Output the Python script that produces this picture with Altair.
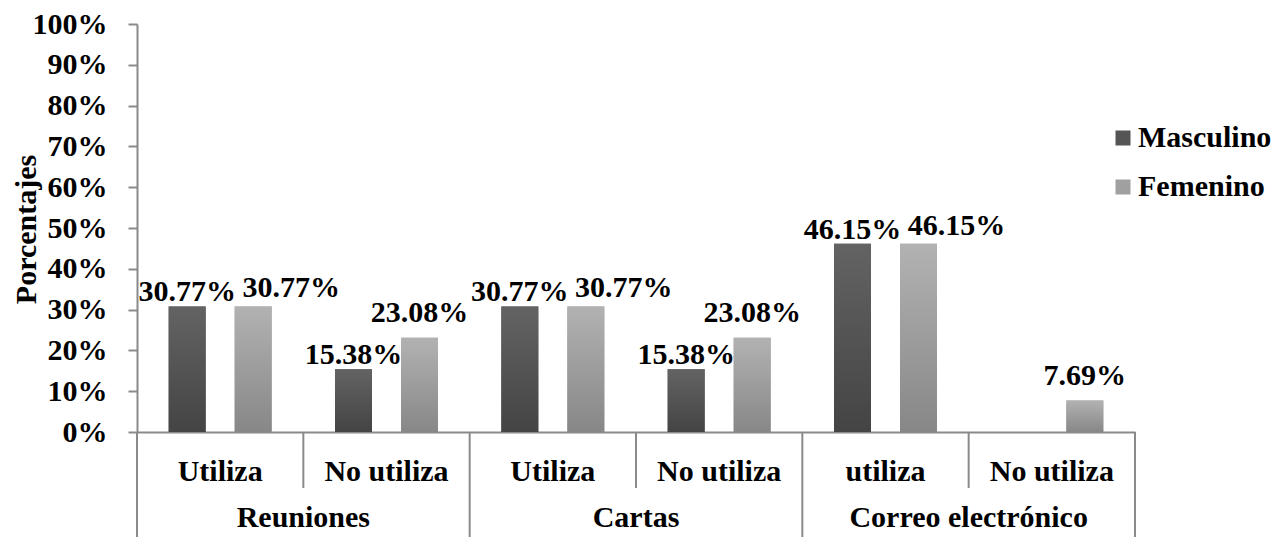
import altair as alt
import pandas as pd

# ---- data ----
categories = ["Reuniones", "Reuniones", "Cartas", "Cartas", "Correo electrónico", "Correo electrónico"]
uses = ["Utiliza", "No utiliza", "Utiliza", "No utiliza", "utiliza", "No utiliza"]
masculino = [0.3077, 0.1538, 0.3077, 0.1538, 0.4615, 0.0]
femenino = [0.3077, 0.2308, 0.3077, 0.2308, 0.4615, 0.0769]
series = ["Masculino", "Femenino"]
y_ticks = [0, 0.1, 0.2, 0.3, 0.4, 0.5, 0.6, 0.7, 0.8, 0.9, 1.0]

FONT = "Liberation Serif"
GRAY = "#8a8a8a"

keys = [f"{c}|{u}" for c, u in zip(categories, uses)]

rows = []
for k, c, u, m, f in zip(keys, categories, uses, masculino, femenino):
    rows.append({"key": k, "cat": c, "use": u, "series": "Masculino", "value": m, "M": m, "F": f})
    rows.append({"key": k, "cat": c, "use": u, "series": "Femenino", "value": f, "M": m, "F": f})
df = pd.DataFrame(rows)

# category boundaries
cat_first = []
cat_second = []
seen = []
for k, c in zip(keys, categories):
    if c not in seen:
        seen.append(c)
        cat_first.append({"key": k, "cat": c})
    else:
        cat_second.append({"key": k, "cat": c})
df_first = pd.DataFrame(cat_first)
df_second = pd.DataFrame(cat_second)
df_last = pd.DataFrame([{"key": keys[-1]}])

x_scale = alt.Scale(domain=keys, paddingInner=0, paddingOuter=0)
xo_scale = alt.Scale(domain=series, paddingInner=0.44, paddingOuter=0.48)
y_scale = alt.Scale(domain=[0, 1], nice=False)

x_axis = alt.Axis(
    title=None, ticks=False, domainColor=GRAY, domainWidth=2,
    labelExpr="split(datum.label, '|')[1]", labelAngle=0,
    labelFont=FONT, labelFontSize=30, labelFontWeight="bold", labelColor="black",
    labelBaseline="alphabetic", labelPadding=48, labelLimit=300,
)
y_axis = alt.Axis(
    values=y_ticks, format=".0%", grid=False,
    tickSize=9, tickColor=GRAY, tickWidth=2, domainColor=GRAY, domainWidth=2,
    labelFont=FONT, labelFontSize=30, labelFontWeight="bold", labelColor="black",
    labelPadding=21,
    title="Porcentajes", titleFont=FONT, titleFontSize=30, titleFontWeight="bold",
    titleColor="black", titleAngle=-90, titleX=-102, titleY=205,
    titleAlign="center", titleBaseline="alphabetic",
)

base = alt.Chart(df)

bars_legend = base.mark_bar().encode(
    x=alt.X("key:N", scale=x_scale, axis=x_axis, sort=keys),
    xOffset=alt.XOffset("series:N", scale=xo_scale, sort=series),
    y=alt.Y("value:Q", scale=y_scale, axis=y_axis),
    color=alt.Color(
        "series:N",
        scale=alt.Scale(domain=series, range=["#555555", "#a0a0a0"]),
        legend=alt.Legend(
            title=None, orient="none", legendX=971, legendY=99,
            symbolType="square", symbolSize=225, symbolStrokeWidth=0,
            labelFont=FONT, labelFontSize=30, labelFontWeight="bold", labelColor="black",
            labelOffset=0, rowPadding=19, labelLimit=300,
        ),
    ),
)


def grad(top, bottom):
    return {"gradient": "linear", "x1": 0, "x2": 0, "y1": 0, "y2": 1,
            "stops": [{"offset": 0, "color": top}, {"offset": 1, "color": bottom}]}


bars_m = base.transform_filter("datum.series == 'Masculino'").mark_bar(
    color=grad("#636363", "#444444")
).encode(
    x=alt.X("key:N", scale=x_scale, sort=keys),
    xOffset=alt.XOffset("series:N", scale=xo_scale, sort=series),
    y=alt.Y("value:Q", scale=y_scale),
)
bars_f = base.transform_filter("datum.series == 'Femenino'").mark_bar(
    color=grad("#b2b2b2", "#878787")
).encode(
    x=alt.X("key:N", scale=x_scale, sort=keys),
    xOffset=alt.XOffset("series:N", scale=xo_scale, sort=series),
    y=alt.Y("value:Q", scale=y_scale),
)

label_kw = dict(font=FONT, fontSize=30, fontWeight="bold", color="black", baseline="alphabetic")
enc = dict(
    x=alt.X("key:N", scale=x_scale, sort=keys),
    xOffset=alt.XOffset("series:N", scale=xo_scale, sort=series),
    y=alt.Y("value:Q", scale=y_scale),
    text=alt.Text("value:Q", format=".2%"),
)
lab_m = base.transform_filter("datum.series == 'Masculino' && datum.value > 0").mark_text(
    dy=-5, **label_kw).encode(**enc)
lab_f_shift = base.transform_filter("datum.series == 'Femenino' && datum.M == datum.F").mark_text(
    dy=-9, dx=38, **label_kw).encode(**enc)
lab_f = base.transform_filter("datum.series == 'Femenino' && datum.M != datum.F").mark_text(
    dy=-16, **label_kw).encode(**enc)

# separators of the two-level axis
rule_cat = alt.Chart(df_first).mark_rule(color=GRAY, strokeWidth=2).encode(
    x=alt.X("key:N", scale=x_scale, sort=keys, bandPosition=0),
    y=alt.value(408), y2=alt.value(540),
)
rule_end = alt.Chart(df_last).mark_rule(color=GRAY, strokeWidth=2).encode(
    x=alt.X("key:N", scale=x_scale, sort=keys, bandPosition=1),
    y=alt.value(408), y2=alt.value(540),
)
rule_sub = alt.Chart(df_second).mark_rule(color=GRAY, strokeWidth=2).encode(
    x=alt.X("key:N", scale=x_scale, sort=keys, bandPosition=0),
    y=alt.value(408), y2=alt.value(464),
)
cat_text = alt.Chart(df_first).mark_text(
    font=FONT, fontSize=30, fontWeight="bold", color="black", baseline="alphabetic"
).encode(
    x=alt.X("key:N", scale=x_scale, sort=keys, bandPosition=1),
    y=alt.value(503),
    text="cat:N",
)

chart = alt.layer(
    bars_legend, bars_m, bars_f, lab_m, lab_f_shift, lab_f,
    rule_cat, rule_end, rule_sub, cat_text,
).properties(
    width=998, height=408,
    autosize=alt.AutoSizeParams(type="none"),
    padding={"left": 129, "top": 16, "right": 138, "bottom": 105},
).configure_view(stroke=None)

chart.save("out.html", embed_options={"renderer": "svg", "actions": False})
